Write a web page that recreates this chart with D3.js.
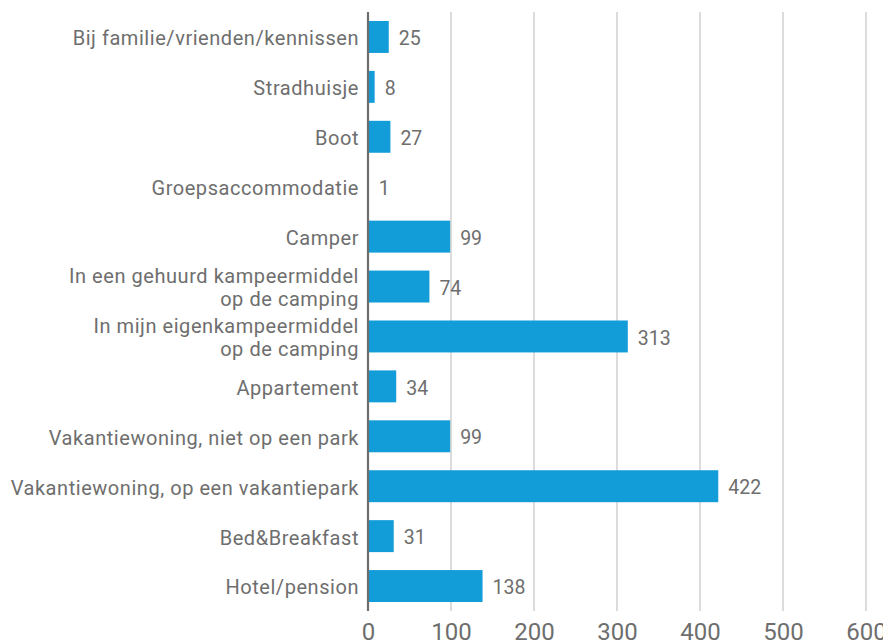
<!DOCTYPE html>
<html>
<head>
<meta charset="utf-8">
<script src="https://cdn.jsdelivr.net/npm/d3@7"></script>
<style>
  body { margin: 0; background: #fff; }
  svg text { font-family: Roboto, "Noto Sans", sans-serif; fill: #6e6e6e; }
</style>
</head>
<body>
<div id="chart"></div>
<script>
// accommodation types, top to bottom
var categories = [
  "Bij familie/vrienden/kennissen",
  "Stradhuisje",
  "Boot",
  "Groepsaccommodatie",
  "Camper",
  "In een gehuurd kampeermiddel|op de camping",
  "In mijn eigenkampeermiddel|op de camping",
  "Appartement",
  "Vakantiewoning, niet op een park",
  "Vakantiewoning, op een vakantiepark",
  "Bed&Breakfast",
  "Hotel/pension"
];
var values = [25, 8, 27, 1, 99, 74, 313, 34, 99, 422, 31, 138];
var ticks = [0, 100, 200, 300, 400, 500, 600];

var W = 883, H = 641;
var margin = {top: 12, right: 17, bottom: 30, left: 368};
var height = H - margin.top - margin.bottom;

var svg = d3.select("#chart").append("svg")
  .attr("width", W)
  .attr("height", H);

var g = svg.append("g")
  .attr("transform", "translate(" + margin.left + "," + margin.top + ")");

var x = d3.scaleLinear().domain([0, 600]).range([0, 498]);
var y = d3.scaleBand().domain(categories).range([0, height]).paddingInner(0.36).paddingOuter(0.18);

// gridlines
g.selectAll(".grid")
  .data(ticks.slice(1))
  .enter().append("line")
  .attr("class", "grid")
  .attr("x1", function(d) { return x(d); })
  .attr("x2", function(d) { return x(d); })
  .attr("y1", 0)
  .attr("y2", height)
  .attr("stroke", "#c4c4c4")
  .attr("stroke-width", 1.2);

// bars
g.selectAll(".bar")
  .data(values)
  .enter().append("rect")
  .attr("class", "bar")
  .attr("x", 0)
  .attr("y", function(d, i) { return y(categories[i]); })
  .attr("width", function(d) { return x(d); })
  .attr("height", y.bandwidth())
  .attr("fill", "#129cd8");

// value labels
g.selectAll(".val")
  .data(values)
  .enter().append("text")
  .attr("class", "val")
  .attr("x", function(d) { return x(d) + 10; })
  .attr("y", function(d, i) { return y(categories[i]) + y.bandwidth() / 2; })
  .attr("dy", "0.42em")
  .style("font-size", "19.5px")
  .text(function(d) { return d; });

// category labels (| splits lines)
var labels = g.selectAll(".cat")
  .data(categories)
  .enter().append("text")
  .attr("class", "cat")
  .attr("text-anchor", "end")
  .style("font-size", "20px")
  .style("letter-spacing", "0.55px");

labels.each(function(d) {
  var lines = d.split("|");
  var cy = y(d) + y.bandwidth() / 2;
  var t = d3.select(this);
  lines.forEach(function(l, k) {
    t.append("tspan")
      .attr("x", -9)
      .attr("y", cy + (k - (lines.length - 1) / 2) * 23)
      .attr("dy", "0.42em")
      .text(l);
  });
});

// axis line
g.append("line")
  .attr("x1", 0).attr("x2", 0)
  .attr("y1", 0).attr("y2", height)
  .attr("stroke", "#6e6e6e")
  .attr("stroke-width", 2.2);

// x tick labels
var xAxis = g.append("g")
  .attr("transform", "translate(0," + height + ")")
  .call(d3.axisBottom(x).tickValues(ticks).tickSize(0).tickPadding(12));
xAxis.select(".domain").remove();
xAxis.selectAll("text")
  .style("font-family", "'Liberation Sans Narrow', Roboto, sans-serif")
  .style("font-size", "24px")
  .attr("fill", "#6e6e6e");
</script>
</body>
</html>
